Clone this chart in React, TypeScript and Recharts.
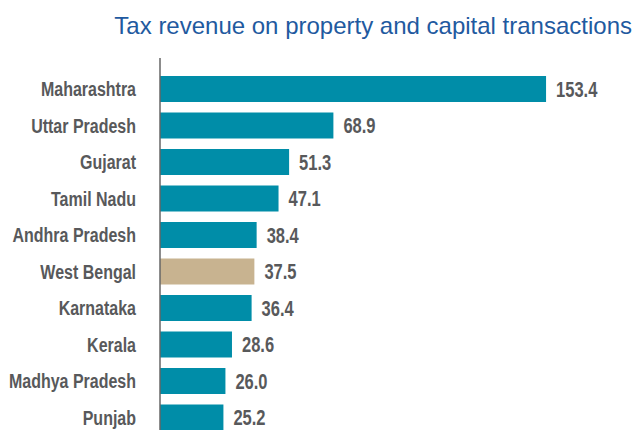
import { BarChart, Bar, XAxis, YAxis, Cell, LabelList } from "recharts";

const states = [
  "Maharashtra",
  "Uttar Pradesh",
  "Gujarat",
  "Tamil Nadu",
  "Andhra Pradesh",
  "West Bengal",
  "Karnataka",
  "Kerala",
  "Madhya Pradesh",
  "Punjab",
];
const revenue = [153.4, 68.9, 51.3, 47.1, 38.4, 37.5, 36.4, 28.6, 26.0, 25.2];
const highlight = "West Bengal";

const chartData = states.map((s, i) => ({ state: s, value: revenue[i] }));

// no narrow font installed, so squeeze Liberation Sans bold horizontally
const FONT = "'Liberation Sans', Arial, sans-serif";
const TEXT = "#58595b";

function StateTick(props: any) {
  const { x, y, payload } = props;
  return (
    <g transform={`translate(${x},${y})`}>
      <text
        transform="scale(0.82,1)"
        textAnchor="end"
        dy="0.355em"
        fill={TEXT}
        fontSize={19.5}
        fontWeight="bold"
        fontFamily={FONT}
      >
        {payload.value}
      </text>
    </g>
  );
}

function ValueLabel(props: any) {
  const { x, y, width, height, value } = props;
  const tx = x + width + 10;
  const ty = y + height / 2;
  return (
    <g transform={`translate(${tx},${ty})`}>
      <text
        transform="scale(0.75,1)"
        dy="0.355em"
        fill={TEXT}
        fontSize={22}
        fontWeight="bold"
        fontFamily={FONT}
      >
        {Number(value).toFixed(1)}
      </text>
    </g>
  );
}

export default function App() {
  return (
    <div style={{ position: "absolute", left: 0, top: 0, width: 638, height: 430, overflow: "hidden", background: "#fff" }}>
      <div
        style={{
          position: "absolute",
          right: 6,
          top: 12,
          fontFamily: FONT,
          fontSize: 24,
          color: "#1f5aa0",
          whiteSpace: "nowrap",
        }}
      >
        Tax revenue on property and capital transactions
      </div>
      <BarChart
        width={638}
        height={436}
        data={chartData}
        layout="vertical"
        margin={{ top: 58, right: 25, bottom: 0, left: 0 }}
      >
        <XAxis type="number" domain={[0, 180]} hide />
        <YAxis
          type="category"
          dataKey="state"
          width={160}
          padding={{ top: 13, bottom: 0 }}
          tickLine={false}
          tickSize={0}
          tickMargin={24}
          axisLine={{ stroke: "#666", strokeWidth: 1.5 }}
          tick={<StateTick />}
          interval={0}
        />
        <Bar dataKey="value" barSize={26} isAnimationActive={false}>
          {chartData.map((d) => (
            <Cell key={d.state} fill={d.state === highlight ? "#c8b390" : "#008da8"} />
          ))}
          <LabelList dataKey="value" content={<ValueLabel />} />
        </Bar>
      </BarChart>
    </div>
  );
}
